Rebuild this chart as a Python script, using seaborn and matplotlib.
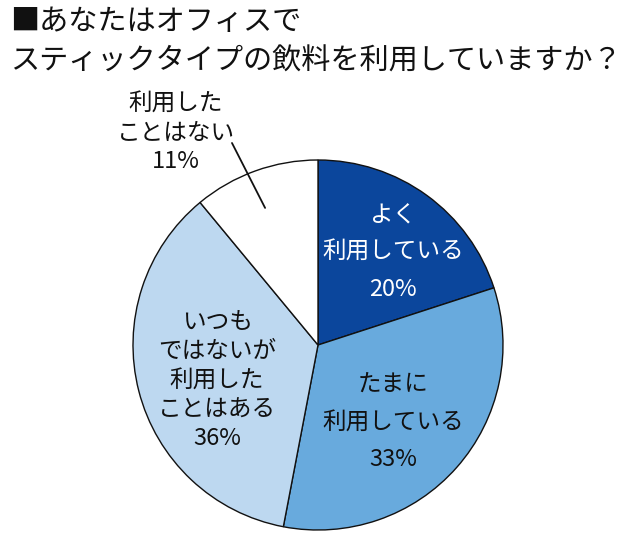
import matplotlib
matplotlib.use("Agg")
import matplotlib.pyplot as plt
import seaborn as sns

sns.set_theme(style="white")
plt.rcParams['font.family'] = ['Noto Sans CJK JP', 'DejaVu Sans']

# data
categories = ["よく利用している", "たまに利用している", "いつもではないが利用したことはある", "利用したことはない"]
values = [20, 33, 36, 11]
label_lines = [
    ["よく", "利用している", "20%"],
    ["たまに", "利用している", "33%"],
    ["いつも", "ではないが", "利用した", "ことはある", "36%"],
    ["利用した", "ことはない", "11%"],
]
colors = ["#0b469c", "#68aadd", "#bdd8f0", "#ffffff"]
text_colors = ["white", "#111111", "#111111", "#111111"]
title_lines = ["■あなたはオフィスで", "スティックタイプの飲料を利用していますか？"]

W, H = 637, 550
fig = plt.figure(figsize=(W / 100, H / 100), dpi=100)
cx, cy, r = 318, 345, 185
ax = fig.add_axes([(cx - r) / W, (H - cy - r) / H, 2 * r / W, 2 * r / H])
ax.pie(values, colors=colors, startangle=90, counterclock=False, radius=1,
       wedgeprops=dict(edgecolor="#111111", linewidth=1.0))
ax.set_xlim(-1, 1)
ax.set_ylim(-1, 1)
ax.set_aspect("equal")
ax.axis("off")

# label anchor (center of first line) and line spacing, in pie units
anchors = [(0.405, 0.70), (0.405, -0.22), (-0.546, 0.12), (-0.768, 1.30)]
spacings = [0.200, 0.200, 0.157, 0.155]
for lines, (x, y), sp, tc in zip(label_lines, anchors, spacings, text_colors):
    for i, t in enumerate(lines):
        ax.text(x, y - i * sp, t, ha="center", va="center", fontsize=17,
                color=tc, clip_on=False)

# leader line for the small slice
ax.plot([-0.465, -0.286], [1.092, 0.741], color="#111111", lw=1.3, clip_on=False)

fig.text(10 / W, 1 - 22 / H, title_lines[0], ha="left", va="center", fontsize=21, color="#111111")
fig.text(10 / W, 1 - 62 / H, title_lines[1], ha="left", va="center", fontsize=21, color="#111111")

fig.savefig("out.png", dpi=100, facecolor="white")
